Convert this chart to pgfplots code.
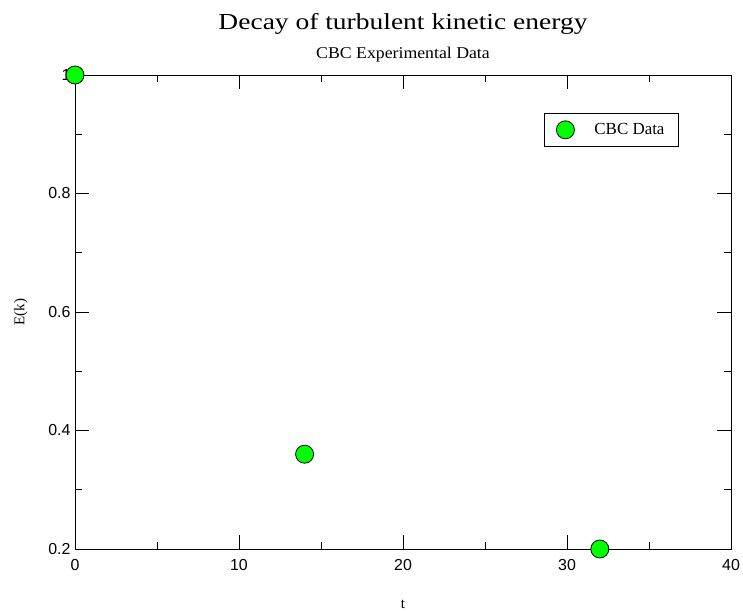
\documentclass[border=0pt]{standalone}
\usepackage{pgfplots}
\pgfplotsset{compat=1.18}
\usepackage{fontspec}
\setmainfont{Liberation Serif}
\newfontfamily\ticksf{Liberation Sans}
\definecolor{ptgreen}{RGB}{0,255,0}
\begin{document}
\begin{tikzpicture}
\useasboundingbox (-75bp,-63bp) rectangle (668bp,549bp);
\begin{axis}[
  at={(0,0)}, anchor=south west,
  scale only axis, width=656bp, height=474bp,
  xmin=0, xmax=40, ymin=0.2, ymax=1.0,
  xtick={0,10,20,30,40}, minor xtick={5,15,25,35},
  ytick={0.2,0.4,0.6,0.8,1.0}, yticklabels={0.2,0.4,0.6,0.8,1},
  minor ytick={0.3,0.5,0.7,0.9},
  tick align=inside, major tick length=14bp, minor tick length=7bp,
  every tick/.style={black, line width=0.8pt},
  axis line style={line width=0.9pt},
  xtick pos=both, ytick pos=both,
  /pgf/number format/assume math mode=true,
  tick label style={font=\ticksf\fontsize{16}{18}\selectfont},
  xticklabel style={yshift=-7bp},
  yticklabel style={xshift=-1bp},
  xlabel={t}, ylabel={E(k)},
  label style={font=\fontsize{15}{17}\selectfont},
  xlabel style={yshift=-22bp},
  ylabel style={yshift=14bp},
  clip=false,
  legend style={at={(0.715,0.92)}, anchor=north west, draw=black, line width=0.8pt,
    font=\fontsize{17}{19}\selectfont, inner xsep=12bp, inner ysep=7.5bp},
]
\addplot[only marks, mark=*, mark size=9bp, mark options={fill=ptgreen, draw=black, line width=0.8pt}]
  coordinates {(0,1.0) (14,0.36) (32,0.2)};
\addlegendentry{\hspace{18bp}CBC Data}
\node[font=\fontsize{23}{27}\selectfont, anchor=base, xscale=1.2, inner sep=0pt] at (rel axis cs:0.5,1) [yshift=46bp] {Decay of turbulent kinetic energy};
\node[font=\fontsize{16.5}{19}\selectfont, anchor=base, xscale=1.08, inner sep=0pt] at (rel axis cs:0.5,1) [yshift=17bp] {CBC Experimental Data};
\end{axis}
\end{tikzpicture}
\end{document}
